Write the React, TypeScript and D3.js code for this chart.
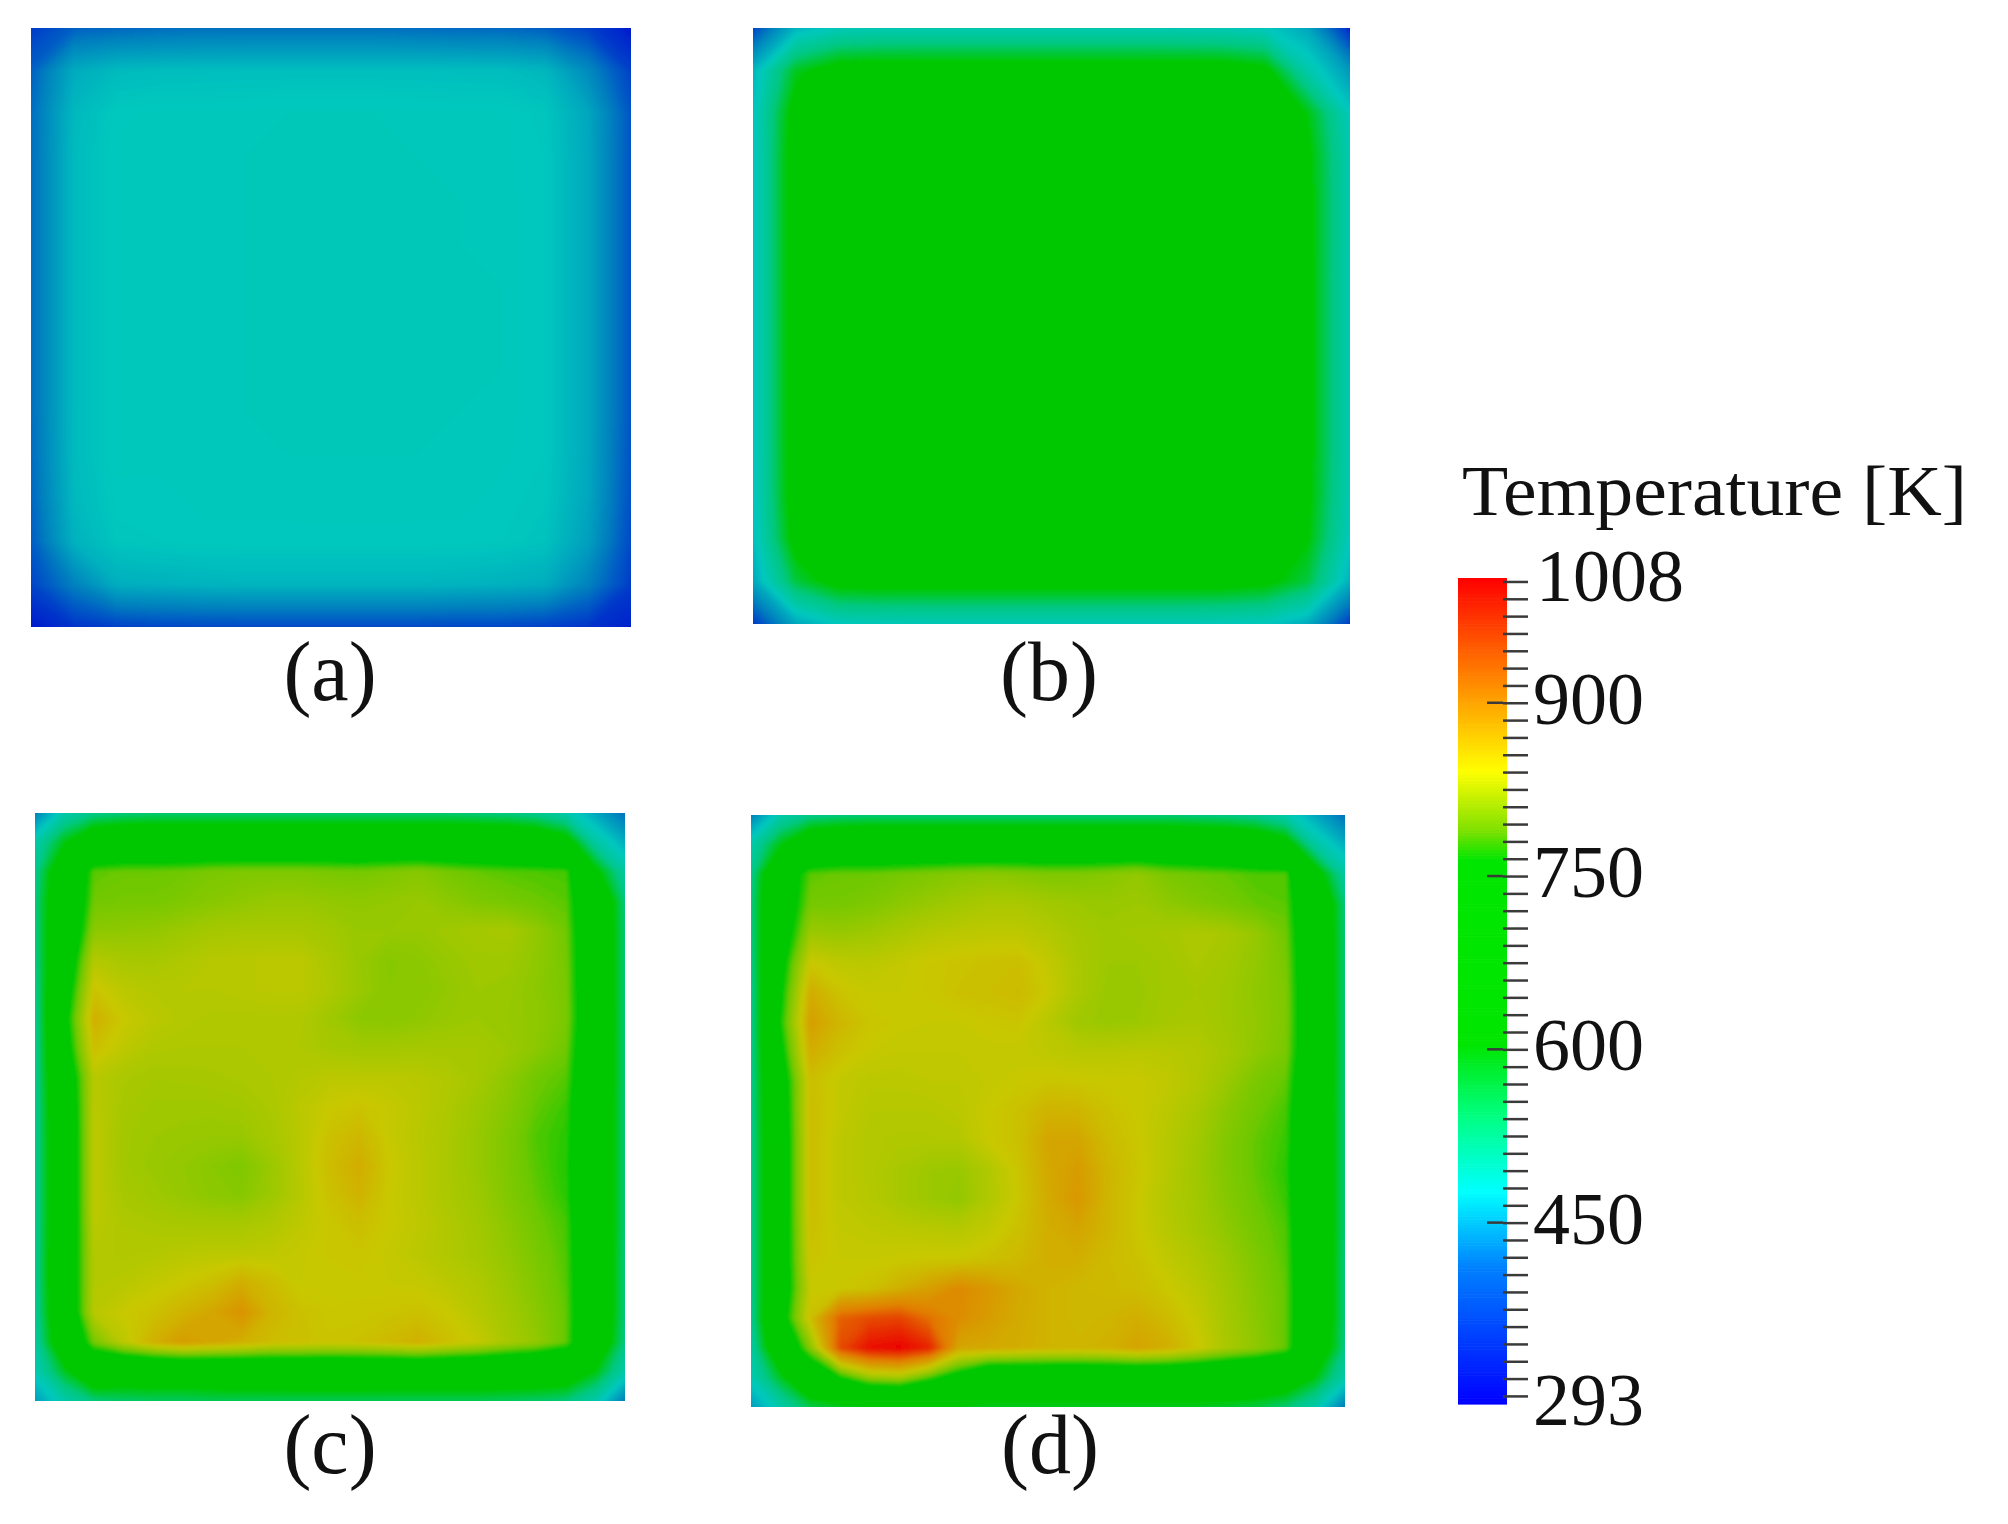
import { useEffect, useRef } from 'react'
import * as d3 from 'd3'

const SERIF = "'Liberation Serif', serif"

// temperature samples, top row first, [K]
const panelA = [
  [340, 372, 378, 382, 385, 385, 385, 385, 385, 382, 380, 378, 370, 345, 315],
  [372, 445, 462, 465, 466, 467, 467, 467, 467, 467, 466, 465, 458, 410, 345],
  [382, 460, 478, 480, 480, 480, 482, 482, 482, 480, 480, 480, 474, 440, 362],
  [382, 462, 480, 480, 481, 482, 482, 483, 482, 482, 481, 480, 476, 442, 362],
  [382, 462, 480, 480, 481, 482, 483, 483, 483, 483, 482, 481, 476, 442, 362],
  [382, 462, 480, 480, 481, 482, 483, 484, 484, 483, 482, 481, 476, 442, 362],
  [382, 462, 480, 480, 481, 482, 483, 484, 484, 484, 483, 482, 476, 442, 362],
  [382, 462, 480, 480, 481, 482, 483, 484, 484, 484, 483, 482, 476, 442, 362],
  [382, 462, 480, 480, 481, 482, 483, 484, 484, 484, 483, 482, 476, 442, 362],
  [382, 462, 480, 480, 481, 482, 483, 483, 484, 483, 482, 481, 476, 442, 362],
  [380, 462, 480, 480, 480, 481, 482, 482, 482, 482, 481, 480, 476, 442, 360],
  [376, 460, 478, 478, 480, 480, 480, 481, 481, 480, 480, 478, 474, 440, 358],
  [368, 452, 474, 476, 478, 478, 478, 478, 478, 478, 478, 476, 470, 432, 352],
  [348, 400, 448, 452, 455, 457, 457, 457, 457, 457, 455, 452, 446, 402, 342],
  [315, 335, 345, 350, 352, 352, 352, 352, 352, 352, 350, 350, 345, 335, 320],
]

const panelB = [
  [350, 455, 485, 490, 492, 492, 492, 492, 492, 492, 490, 488, 480, 440, 325],
  [455, 590, 632, 637, 637, 637, 637, 637, 637, 637, 637, 635, 620, 500, 425],
  [472, 630, 660, 660, 660, 660, 660, 660, 660, 660, 660, 650, 635, 600, 480],
  [470, 640, 660, 660, 660, 660, 660, 660, 660, 660, 660, 650, 638, 616, 490],
  [470, 640, 660, 660, 660, 660, 660, 660, 660, 660, 660, 650, 638, 618, 492],
  [470, 640, 660, 660, 660, 660, 660, 660, 660, 660, 660, 650, 638, 618, 492],
  [470, 640, 660, 660, 660, 660, 660, 660, 660, 660, 660, 650, 638, 618, 490],
  [470, 640, 660, 660, 660, 660, 660, 660, 660, 660, 660, 650, 638, 618, 490],
  [470, 640, 660, 660, 660, 660, 660, 660, 660, 660, 660, 650, 638, 618, 490],
  [470, 640, 660, 660, 660, 660, 660, 660, 660, 660, 660, 650, 638, 618, 490],
  [470, 640, 660, 660, 660, 660, 660, 660, 660, 660, 660, 650, 638, 618, 490],
  [470, 638, 660, 660, 660, 660, 660, 660, 660, 660, 660, 650, 638, 616, 488],
  [465, 625, 655, 655, 655, 655, 655, 655, 655, 655, 655, 650, 636, 606, 480],
  [440, 575, 625, 630, 630, 630, 630, 630, 630, 630, 630, 628, 618, 575, 450],
  [340, 440, 478, 482, 484, 485, 485, 485, 485, 485, 485, 482, 478, 445, 340],
]

const panelC = [
  [400, 500, 535, 545, 550, 550, 550, 550, 550, 550, 550, 550, 550, 550, 550, 545, 540, 530, 500, 440, 385],
  [500, 600, 680, 700, 700, 700, 700, 700, 700, 700, 700, 700, 700, 700, 700, 700, 695, 680, 640, 510, 450],
  [530, 680, 785, 790, 790, 792, 798, 800, 800, 800, 797, 795, 800, 805, 795, 788, 784, 782, 780, 620, 510],
  [540, 695, 792, 795, 795, 800, 805, 810, 815, 815, 812, 810, 812, 815, 808, 800, 795, 790, 785, 695, 545],
  [540, 700, 808, 810, 812, 818, 824, 826, 826, 826, 822, 815, 815, 815, 820, 824, 826, 812, 792, 700, 548],
  [535, 715, 835, 826, 825, 830, 836, 838, 840, 840, 828, 815, 805, 808, 815, 820, 820, 810, 795, 700, 548],
  [530, 730, 855, 840, 835, 836, 836, 838, 840, 840, 830, 816, 806, 806, 812, 818, 816, 808, 797, 700, 548],
  [525, 745, 875, 850, 840, 835, 832, 832, 832, 832, 820, 808, 806, 810, 815, 818, 815, 810, 798, 705, 548],
  [525, 735, 860, 842, 832, 830, 830, 830, 830, 830, 825, 822, 822, 824, 824, 824, 818, 808, 792, 700, 548],
  [525, 715, 838, 828, 824, 825, 826, 828, 830, 835, 840, 840, 840, 838, 832, 824, 810, 792, 784, 700, 548],
  [525, 705, 840, 825, 820, 820, 820, 822, 828, 840, 850, 855, 848, 840, 830, 818, 805, 787, 777, 695, 548],
  [525, 700, 842, 822, 818, 816, 815, 815, 825, 838, 858, 868, 848, 838, 828, 815, 800, 782, 774, 695, 548],
  [525, 700, 842, 822, 816, 812, 806, 800, 816, 838, 862, 878, 852, 840, 828, 815, 800, 784, 772, 695, 548],
  [525, 700, 842, 825, 820, 814, 808, 805, 818, 836, 858, 872, 850, 840, 828, 818, 802, 787, 774, 695, 548],
  [525, 700, 840, 830, 828, 826, 826, 826, 832, 842, 852, 860, 850, 842, 832, 822, 808, 792, 780, 695, 548],
  [525, 705, 835, 832, 834, 838, 840, 840, 842, 847, 852, 854, 847, 840, 832, 824, 812, 797, 782, 695, 545],
  [525, 705, 835, 838, 845, 852, 860, 878, 862, 848, 848, 850, 848, 847, 840, 832, 817, 802, 784, 695, 545],
  [520, 700, 838, 850, 858, 872, 885, 905, 870, 858, 852, 852, 855, 858, 850, 837, 822, 807, 787, 695, 545],
  [510, 680, 795, 840, 875, 895, 885, 875, 862, 858, 855, 858, 866, 875, 860, 847, 827, 812, 787, 680, 540],
  [490, 590, 680, 660, 655, 655, 660, 665, 670, 675, 675, 675, 670, 670, 670, 670, 670, 670, 660, 600, 500],
  [430, 500, 545, 555, 560, 560, 565, 565, 565, 565, 565, 565, 565, 565, 565, 565, 560, 555, 545, 500, 395],
]

const panelD = [
  [400, 500, 535, 545, 550, 550, 550, 550, 550, 550, 550, 550, 550, 550, 550, 545, 540, 530, 500, 440, 385],
  [500, 600, 685, 700, 700, 700, 700, 700, 700, 700, 700, 700, 700, 700, 700, 700, 695, 680, 640, 510, 450],
  [530, 720, 785, 790, 790, 795, 800, 805, 808, 805, 800, 800, 805, 812, 798, 792, 788, 782, 782, 640, 510],
  [540, 725, 795, 795, 800, 808, 815, 822, 828, 828, 822, 818, 815, 818, 810, 802, 795, 788, 785, 695, 545],
  [540, 730, 818, 815, 820, 828, 836, 840, 842, 842, 835, 825, 820, 822, 825, 830, 826, 814, 792, 700, 548],
  [535, 745, 852, 842, 840, 846, 852, 855, 858, 860, 846, 828, 818, 818, 822, 828, 822, 812, 797, 700, 548],
  [530, 755, 878, 855, 848, 848, 852, 858, 860, 864, 850, 828, 816, 816, 822, 824, 820, 810, 800, 700, 548],
  [530, 765, 892, 868, 854, 850, 848, 848, 852, 854, 838, 820, 816, 818, 824, 827, 820, 812, 800, 705, 548],
  [530, 750, 878, 858, 848, 845, 845, 845, 846, 846, 842, 838, 838, 840, 838, 834, 824, 810, 797, 705, 548],
  [530, 730, 860, 845, 840, 840, 842, 842, 846, 850, 854, 852, 850, 850, 844, 834, 817, 797, 787, 700, 548],
  [530, 725, 862, 845, 836, 836, 836, 840, 850, 858, 872, 870, 858, 850, 840, 827, 807, 792, 780, 695, 548],
  [530, 722, 862, 842, 834, 832, 832, 834, 850, 858, 886, 886, 864, 852, 837, 822, 802, 787, 777, 695, 548],
  [530, 722, 862, 842, 834, 826, 818, 815, 832, 854, 882, 896, 870, 854, 837, 820, 802, 787, 774, 695, 548],
  [530, 722, 862, 842, 836, 826, 818, 812, 832, 852, 880, 900, 870, 852, 834, 822, 804, 790, 777, 695, 548],
  [530, 722, 860, 845, 842, 840, 838, 836, 844, 858, 877, 886, 870, 852, 837, 824, 810, 794, 782, 695, 548],
  [530, 722, 856, 848, 848, 850, 852, 852, 858, 865, 877, 877, 864, 857, 844, 832, 817, 800, 784, 695, 545],
  [530, 722, 848, 852, 858, 875, 892, 915, 900, 882, 872, 867, 864, 862, 852, 840, 822, 804, 787, 695, 545],
  [525, 735, 860, 945, 960, 965, 935, 912, 895, 880, 872, 867, 870, 877, 864, 847, 824, 807, 787, 695, 545],
  [510, 690, 805, 960, 1000, 1008, 985, 885, 882, 878, 872, 870, 874, 887, 877, 854, 827, 810, 787, 680, 540],
  [490, 590, 690, 760, 815, 825, 780, 735, 675, 675, 675, 675, 675, 675, 675, 675, 675, 670, 660, 600, 500],
  [430, 500, 570, 590, 600, 600, 600, 600, 590, 590, 590, 590, 590, 590, 590, 590, 585, 575, 550, 500, 395],
]

const panelLabels = ['(a)', '(b)', '(c)', '(d)']
const panelGrids = [panelA, panelB, panelC, panelD]

// colour table of the bar
const barTemps = [293, 411, 477, 543, 605, 764, 790, 841, 924, 1008]
const barColors = ['#0000ff', '#0080ff', '#00ffff', '#00ff80', '#00e600', '#00e600', '#80e000', '#ffff00', '#ff8000', '#ff0000']

// same table as it looks on the lit surfaces
const surfTemps = [293, 350, 400, 477, 543, 605, 764, 790, 820, 850, 880, 924, 1008]
const surfColors = ['#0000d2', '#0046c8', '#0082be', '#00c8be', '#00c882', '#00c800', '#00c800', '#6ec800', '#a0c800', '#c8c800', '#d2aa00', '#e18200', '#eb0000']

const barLabels = [293, 450, 600, 750, 900, 1008]
const majorTicks = [450, 600, 750, 900]

const frames = [
  { x0: 31, x1: 631, y0: 28, y1: 627, lx: 330, ly: 700 },
  { x0: 753, x1: 1350, y0: 28, y1: 624, lx: 1049, ly: 700 },
  { x0: 35, x1: 625, y0: 813, y1: 1401, lx: 330, ly: 1473 },
  { x0: 751, x1: 1345, y0: 815, y1: 1407, lx: 1050, ly: 1473 },
]

export default function App() {
  const svgRef = useRef<SVGSVGElement>(null)

  useEffect(() => {
    if (!svgRef.current) return
    const sel = d3.select(svgRef.current)
    sel.selectAll('*').remove()

    const surfColor = d3.scaleLinear<string>().domain(surfTemps).range(surfColors).clamp(true)
    const barColor = d3.scaleLinear<string>().domain(barTemps).range(barColors)
    const levels = d3.range(290, 1010, 3)

    const defs = sel.append('defs')
    defs.append('filter').attr('id', 'soft')
      .attr('x', '-5%').attr('y', '-5%').attr('width', '110%').attr('height', '110%')
      .append('feGaussianBlur').attr('stdDeviation', 1.6)

    panelGrids.forEach((grid, k) => {
      const f = frames[k]
      const rows = grid.length
      const cols = grid[0].length
      // d3.contours puts sample i at i + 0.5
      const xs = d3.scaleLinear().domain([0.5, cols - 0.5]).range([f.x0, f.x1])
      const ys = d3.scaleLinear().domain([0.5, rows - 0.5]).range([f.y0, f.y1])
      const path = d3.geoPath(d3.geoTransform({
        point(x, y) { this.stream.point(xs(x), ys(y)) },
      }))
      const bands = d3.contours().size([cols, rows]).thresholds(levels)(grid.flat())

      defs.append('clipPath').attr('id', `clip-${k}`)
        .append('rect')
        .attr('x', f.x0).attr('y', f.y0)
        .attr('width', f.x1 - f.x0).attr('height', f.y1 - f.y0)

      sel.append('g').attr('clip-path', `url(#clip-${k})`)
        .append('g').attr('filter', 'url(#soft)')
        .selectAll('path')
        .data(bands)
        .join('path')
        .attr('d', (d) => path(d))
        .attr('fill', (d) => surfColor(d.value + 1.5))

      sel.append('text')
        .attr('x', f.lx).attr('y', f.ly)
        .attr('text-anchor', 'middle')
        .attr('font-family', SERIF).attr('font-size', 84)
        .attr('fill', '#111')
        .text(panelLabels[k])
    })

    // colour bar
    const barY = d3.scaleLinear().domain([293, 1008]).range([1404, 578])
    const barG = sel.append('g')
    d3.range(293, 1008, 2.5).forEach((t) => {
      barG.append('rect')
        .attr('x', 1458).attr('width', 49)
        .attr('y', barY(t + 2.5)).attr('height', barY(t) - barY(t + 2.5) + 0.6)
        .attr('fill', barColor(t + 1.25))
    })

    const axis = d3.axisRight(barY)
      .tickValues(d3.range(300, 1006, 15))
      .tickSize(25)
      .tickFormat(() => '')
    const axisG = sel.append('g').attr('transform', 'translate(1503,0)').call(axis)
    axisG.select('.domain').remove()
    axisG.selectAll('line').attr('stroke', '#3a3a3a').attr('stroke-width', 2.5)

    majorTicks.forEach((t) => {
      sel.append('line')
        .attr('x1', 1487).attr('x2', 1503)
        .attr('y1', barY(t)).attr('y2', barY(t))
        .attr('stroke', '#3a3a3a').attr('stroke-width', 2.5)
    })

    barLabels.forEach((t) => {
      sel.append('text')
        .attr('x', t === 1008 ? 1536 : 1533)
        .attr('y', t === 1008 ? barY(t) + 23 : barY(t) + 21)
        .attr('font-family', SERIF).attr('font-size', 74)
        .attr('fill', '#111')
        .text(t)
    })

    sel.append('text')
      .attr('x', 1462).attr('y', 515)
      .attr('font-family', SERIF).attr('font-size', 72)
      .attr('textLength', 505).attr('lengthAdjust', 'spacingAndGlyphs')
      .attr('fill', '#111')
      .text('Temperature [K]')
  }, [])

  return (
    <svg
      ref={svgRef}
      width={2008}
      height={1524}
      style={{ position: 'absolute', left: 0, top: 0, background: '#fff' }}
    />
  )
}
